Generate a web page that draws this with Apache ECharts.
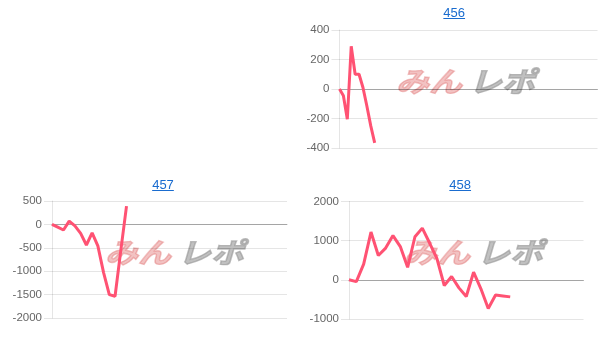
<!DOCTYPE html>
<html>
<head>
<meta charset="utf-8">
<script src="https://cdn.jsdelivr.net/npm/echarts@6/dist/echarts.min.js"></script>
<style>
html,body{margin:0;padding:0;background:#fff;}
#chart{width:608px;height:339px;}
</style>
</head>
<body>
<div id="chart"></div>
<script>
// ---- data ----
const titles = ['456', '457', '458'];
const values456 = [0, -45, -205, 290, 100, 100, 10, -115, -250, -365];
const values457 = [0, -60, -120, 70, -30, -190, -440, -180, -460, -1030, -1500, -1535, -560, 390];
const values458 = [0, -45, 400, 1220, 620, 810, 1130, 850, 320, 1100, 1320, 940, 540, -145, 85, -205, -425, 195, -230, -730, -385, -410, -435];
const categoryCounts = [67, 42, 33];
const yMin = [-400, -2000, -1000];
const yMax = [400, 500, 2000];
const yStep = [200, 500, 1000];

const allValues = [values456, values457, values458];
const categories = categoryCounts.map(n => Array.from({length: n}, (_, i) => String(i + 1)));

// ---- layout ----
const grids = [
  {left: 339.5, top: 30, width: 258, height: 118},
  {left: 52, top: 201, width: 235, height: 117},
  {left: 349, top: 201.5, width: 234.5, height: 117.5}
];
const titlePos = [
  {cx: 454.2, top: 7},
  {cx: 163, top: 178.5},
  {cx: 460.2, top: 178.5}
];
const underlineY = [18.5, 190.5, 190.5];
const titleW = 21.7;
const wm = [
  {x: 396, y: 81},
  {x: 105, y: 252},
  {x: 404, y: 252}
];

const chart = echarts.init(document.getElementById('chart'));
const lineColor = '#ff5273';
const gridColor = 'rgba(0,0,0,0.1)';
const labelFont = '"Liberation Sans", Arial, Helvetica, sans-serif';
const wmFont = 'italic bold 33px "Noto Sans CJK JP", sans-serif';

const graphic = [];
titles.forEach((t, i) => {
  graphic.push({
    type: 'line', silent: true,
    shape: {x1: titlePos[i].cx - titleW / 2, y1: underlineY[i], x2: titlePos[i].cx + titleW / 2, y2: underlineY[i]},
    style: {stroke: '#1a6ccf', lineWidth: 1}
  });
  graphic.push({
    type: 'text', silent: true, z: -10, x: wm[i].x, y: wm[i].y, scaleY: 0.85,
    style: {text: 'みん', font: wmFont, verticalAlign: 'middle', fill: 'rgba(226,120,120,0.45)',
            stroke: 'rgba(226,120,120,0.45)', lineWidth: 1.6}
  });
  graphic.push({
    type: 'text', silent: true, z: -10, x: wm[i].x + 73, y: wm[i].y, scaleY: 0.85,
    style: {text: 'レポ', font: wmFont, verticalAlign: 'middle', fill: 'rgba(150,150,150,0.6)',
            stroke: 'rgba(150,150,150,0.6)', lineWidth: 1.6}
  });
});

const option = {
  animation: false,
  backgroundColor: '#fff',
  title: titles.map((t, i) => ({
    text: t,
    left: titlePos[i].cx - titleW / 2,
    top: titlePos[i].top,
    padding: 0,
    textStyle: {color: '#1a6ccf', fontSize: 13, fontWeight: 'normal', fontFamily: labelFont}
  })),
  graphic: graphic,
  grid: grids.map(g => Object.assign({containLabel: false}, g)),
  xAxis: categories.map((c, i) => ({
    type: 'category', gridIndex: i, data: c, boundaryGap: false,
    axisLabel: {show: false}, axisTick: {show: false},
    axisLine: {show: true, onZero: true, lineStyle: {color: 'rgba(0,0,0,0.28)', width: 1}},
    splitLine: {show: false}
  })),
  yAxis: titles.map((t, i) => ({
    type: 'value', gridIndex: i, min: yMin[i], max: yMax[i], interval: yStep[i],
    axisLine: {show: true, lineStyle: {color: gridColor}},
    axisTick: {show: true, length: 8, lineStyle: {color: gridColor}},
    splitLine: {show: true, lineStyle: {color: gridColor}},
    axisLabel: {color: '#666', fontSize: 11.5, margin: 10, fontFamily: labelFont,
                formatter: v => String(v)}
  })),
  series: allValues.map((v, i) => ({
    type: 'line', xAxisIndex: i, yAxisIndex: i, data: v,
    symbol: 'none', smooth: false,
    lineStyle: {color: lineColor, width: 3}
  }))
};
chart.setOption(option);
</script>
</body>
</html>
